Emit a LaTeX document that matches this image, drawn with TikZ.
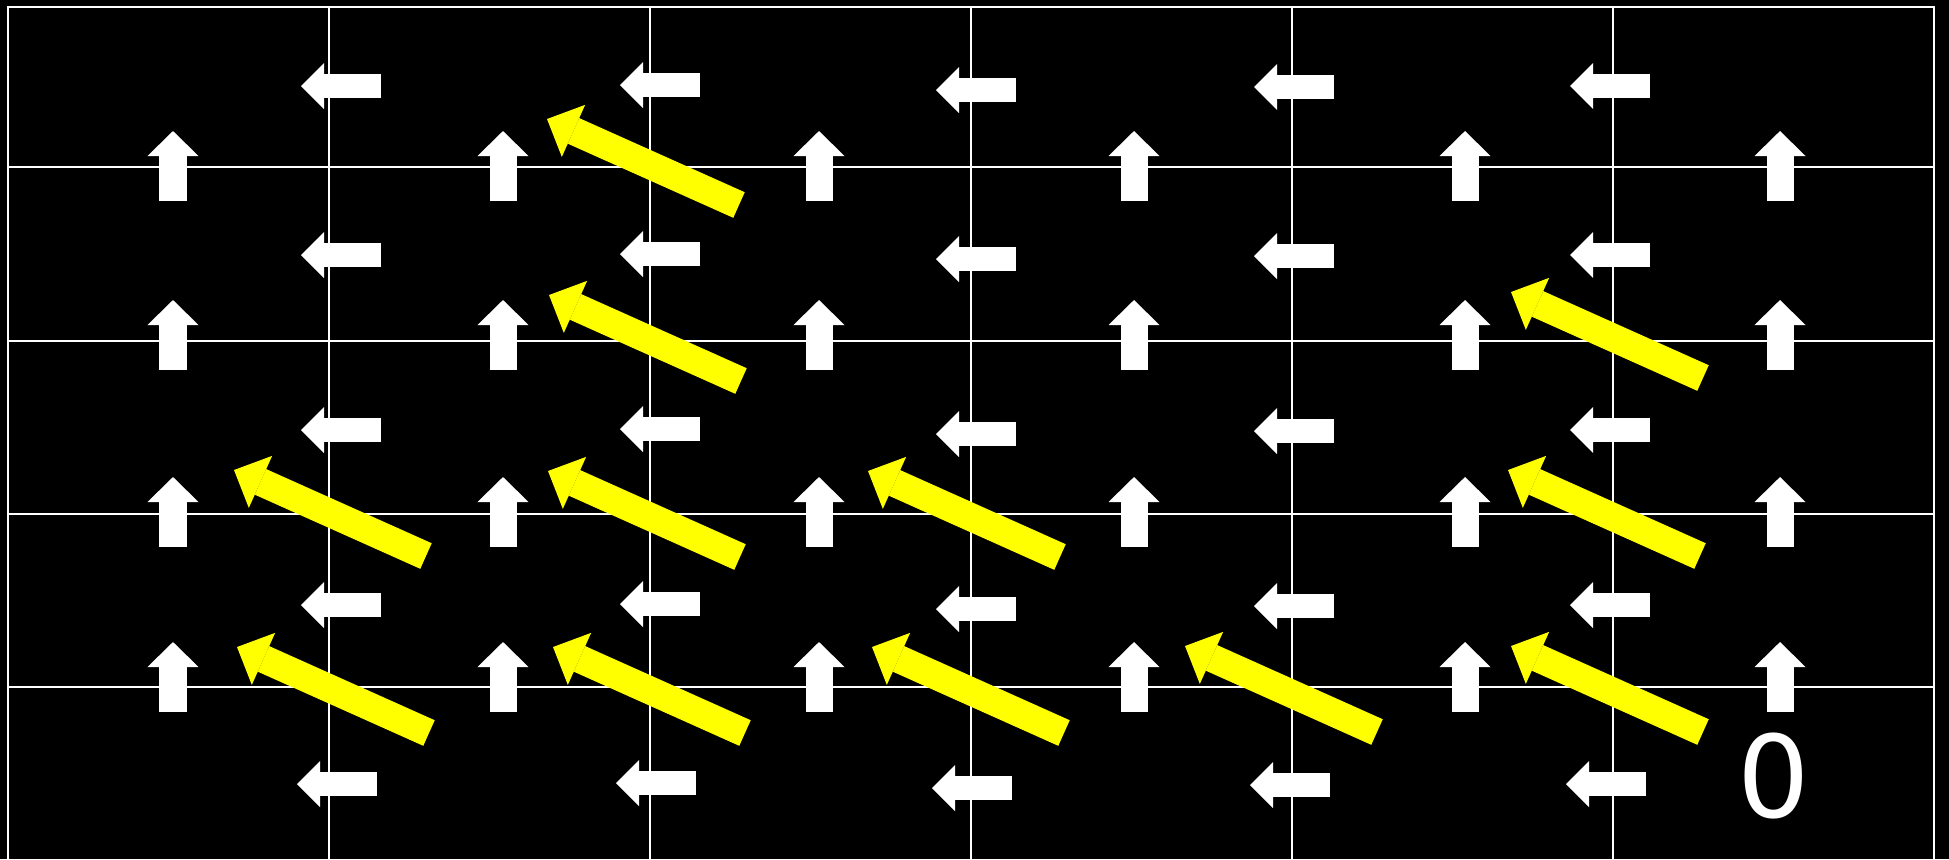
\documentclass[tikz,border=0pt]{standalone}
\usepackage{fontspec}
\newfontfamily\lblfont{DejaVu Sans}
\usetikzlibrary{arrows.meta}
\definecolor{fieldyel}{RGB}{255,255,0}
\tikzset{
  gline/.style={draw=white, line width=0.025cm},
  upa/.style={draw=white, line width=0.27cm, -{Triangle[length=0.25cm 0, width=0.51cm 0, line width=0pt 0]}},
  lefta/.style={draw=white, line width=0.24cm, -{Triangle[length=0.23cm 0, width=0.46cm 0, line width=0pt 0]}},
  yela/.style={draw=fieldyel, line width=0.28cm, -{Triangle[length=0.29cm 0, width=0.57cm 0, line width=0pt 0]}},
  lbl/.style={text=white, inner sep=0pt, font=\lblfont\fontsize{32.4}{38}\selectfont},
}

\begin{document}
\begin{tikzpicture}[x=0.01cm, y=-0.01cm]
  \useasboundingbox (0,0) rectangle (1949,859);
  \fill[black] (0,0) rectangle (1949,859);
  \draw[gline] (8,859) -- (8,7) -- (1934,7) -- (1934,859);
  \foreach \x in {329,650,971,1292,1613}
    \draw[gline] (\x,7) -- (\x,859);
  \foreach \y in {167,341,514,687}
    \draw[gline] (8,\y) -- (1934,\y);
  \foreach \y in {166,335,512,677}
    \foreach \x in {173,503,819,1134,1465,1780}
      \draw[upa] (\x,\y+35) -- (\x,\y-35);
  \foreach \x/\dy in {341/0,660/-1,976/4,1294/1,1610/0}
    \foreach \y/\dx in {86/0,255/0,430/0,605/0,784/-4}
      \draw[lefta] (\x+\dx+40,\y+\dy) -- (\x+\dx-40,\y+\dy);
  \foreach \x/\y in {643/162,645/338,1607/335,330/513,644/514,964/514,1604/513,
                     333/690,649/690,968/690,1281/689,1607/689}
    \draw[yela] (\x+96,\y+43) -- (\x-96,\y-43);
  \node[lbl] (zero) at (1774,776) {0};
\end{tikzpicture}
\end{document}
